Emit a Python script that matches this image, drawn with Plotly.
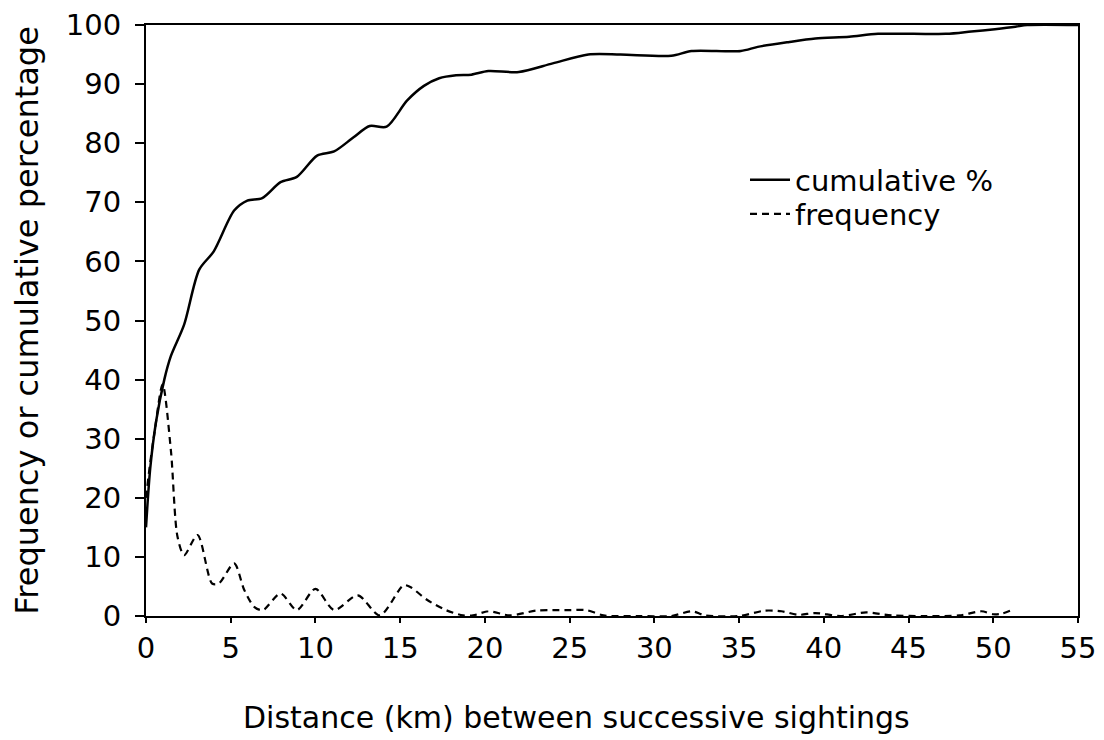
import plotly.graph_objects as go

# Cumulative percentage curve (distance km, %)
cum_x = [0, 0.25, 0.6, 1.08, 1.47, 2.25, 3.14, 4.0, 5.2, 5.98, 6.86, 7.94, 8.9, 10.1, 11.1,
         12.25, 13.2, 14.2, 15.4, 16.4, 17.3, 18.3, 19.2, 20.2, 22.0, 24.0, 26.1, 28.0, 31.0,
         32.2, 35.1, 36.1, 37.9, 39.5, 41.5, 43.2, 47.2, 48.7, 50.1, 51.3, 52.0, 55.0]
cum_y = [15, 25, 33, 40, 44, 49.3, 58.6, 61.7, 68.6, 70.3, 70.7, 73.4, 74.3, 77.9, 78.6,
         81.0, 82.9, 82.8, 87.2, 89.7, 91.0, 91.5, 91.6, 92.2, 92.05, 93.5, 95.0, 95.0, 94.8,
         95.6, 95.6, 96.3, 97.1, 97.7, 98.0, 98.5, 98.5, 98.9, 99.3, 99.7, 100, 100]

# Frequency curve (distance km, count)
freq_x = [0, 0.25, 0.5, 0.98, 1.47, 1.86, 2.25, 3.04, 3.9, 4.3, 5.2, 5.8, 6.4, 6.9, 7.94, 8.9,
          10.0, 11.1, 12.5, 13.8, 15.2, 15.6, 16.6, 17.7, 18.7, 19.3, 20.2, 21.5, 23.0, 24.0,
          25.0, 26.0, 27.0, 29.0, 31.0, 32.2, 33.0, 35.0, 36.5, 37.5, 38.5, 39.5, 41.0, 42.5,
          44.0, 46.0, 48.0, 49.3, 50.0, 50.5, 51.1]
freq_y = [20, 26, 31, 39.2, 28, 13.4, 10.3, 13.7, 5.5, 5.5, 8.9, 4.4, 1.5, 1.0, 3.8, 1.0,
          4.6, 1.0, 3.5, 0.1, 5.2, 4.9, 2.7, 1.0, 0.1, 0.1, 0.8, 0.1, 0.9, 1.0,
          1.0, 1.0, 0.1, 0.0, 0.0, 0.8, 0.1, 0.0, 0.9, 0.8, 0.2, 0.5, 0.0, 0.6,
          0.1, 0.0, 0.1, 0.8, 0.3, 0.4, 1.0]

x_ticks = [0, 5, 10, 15, 20, 25, 30, 35, 40, 45, 50, 55]
y_ticks = [0, 10, 20, 30, 40, 50, 60, 70, 80, 90, 100]

FONT = "DejaVu Sans"

fig = go.Figure()
fig.add_trace(go.Scatter(x=cum_x, y=cum_y, mode="lines", name="cumulative %", legend="legend",
                         line=dict(color="black", width=2.5, shape="spline", smoothing=0.8)))
fig.add_trace(go.Scatter(x=freq_x, y=freq_y, mode="lines", name="frequency", legend="legend2",
                         line=dict(color="black", width=2.2, dash="7px,5px", shape="spline", smoothing=0.8)))

axis_common = dict(showgrid=False, zeroline=False, showline=True, linecolor="black",
                   linewidth=2, mirror=True, ticks="outside", tickcolor="black",
                   tickwidth=2, automargin=False,
                   tickfont=dict(family=FONT, size=29, color="black"))

legend_common = dict(xanchor="left", yanchor="middle", bgcolor="rgba(0,0,0,0)",
                     font=dict(family=FONT, size=29, color="black"), itemwidth=40)

fig.update_layout(
    width=1104, height=740,
    margin=dict(l=146, r=26, t=25, b=124),
    paper_bgcolor="white", plot_bgcolor="white",
    font=dict(family=FONT, color="black"),
    xaxis=dict(range=[0, 55], tickvals=x_ticks, ticktext=[str(v) for v in x_ticks],
               ticklen=5, **axis_common),
    yaxis=dict(range=[0, 100], tickvals=y_ticks, ticktext=[str(v) for v in y_ticks],
               ticklen=9, ticklabelstandoff=8,
               title=dict(text="Frequency or cumulative percentage",
                          font=dict(family=FONT, size=32), standoff=18),
               **axis_common),
    legend=dict(x=0.6427, y=0.738, **legend_common),
    legend2=dict(x=0.6427, y=0.680, **legend_common),
    showlegend=True,
    annotations=[dict(text="Distance (km) between successive sightings",
                      xref="paper", yref="paper", x=0.4614, y=-0.171,
                      xanchor="center", yanchor="middle", showarrow=False,
                      font=dict(family=FONT, size=30, color="black"))],
)

fig.write_html("out.html")
